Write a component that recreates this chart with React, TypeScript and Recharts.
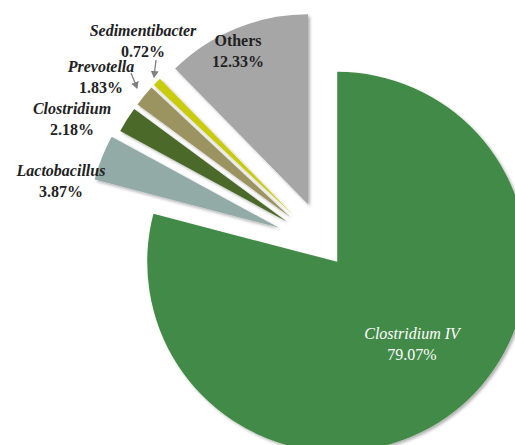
import { PieChart, Pie, Cell, Sector } from "recharts";

const genera = ["Clostridium IV", "Lactobacillus", "Clostridium", "Prevotella", "Sedimentibacter", "Others"];
const shares = [79.07, 3.87, 2.18, 1.83, 0.72, 12.33];
const sliceColors = ["#438a46", "#93aba7", "#4b6a2b", "#9b9461", "#c9cb0a", "#a6a6a6"];
const explodeBy = [20, 50, 45, 45, 45, 45];

// label anchor points (centre of the name line), picked off the original figure
const labelSpots: Record<string, { x: number; y: number; fill: string; bold: boolean; italic: boolean }> = {
  "Clostridium IV": { x: 412, y: 333, fill: "#ffffff", bold: false, italic: true },
  Lactobacillus: { x: 61, y: 170, fill: "#222", bold: true, italic: true },
  Clostridium: { x: 72, y: 108, fill: "#222", bold: true, italic: true },
  Prevotella: { x: 101, y: 66, fill: "#222", bold: true, italic: true },
  Sedimentibacter: { x: 143, y: 30, fill: "#222", bold: true, italic: true },
  Others: { x: 238, y: 40, fill: "#222", bold: true, italic: false },
};

const data = genera.map((name, i) => ({ name, value: shares[i] }));
const RAD = Math.PI / 180;

const renderSlice = (props: any) => {
  const { cx, cy, outerRadius, startAngle, endAngle, midAngle, fill } = props;
  const name = props.name ?? props.payload?.name;
  const off = explodeBy[genera.indexOf(name)] ?? 0;
  const x = cx + off * Math.cos(midAngle * RAD);
  const y = cy - off * Math.sin(midAngle * RAD);
  return (
    <Sector
      cx={x}
      cy={y}
      innerRadius={0}
      outerRadius={outerRadius}
      startAngle={startAngle}
      endAngle={endAngle}
      fill={fill}
      stroke="none"
      filter="url(#sliceShadow)"
    />
  );
};

const renderLabel = (props: any) => {
  const name = props.name ?? props.payload?.name;
  const spot = labelSpots[name];
  if (!spot) return null;
  const value = shares[genera.indexOf(name)];
  return (
    <g>
      <text
        x={spot.x}
        y={spot.y}
        textAnchor="middle"
        dominantBaseline="central"
        fill={spot.fill}
        fontFamily="'Liberation Serif', serif"
        fontSize={16}
        fontWeight={spot.bold ? "bold" : "normal"}
        fontStyle={spot.italic ? "italic" : "normal"}
      >
        {name}
      </text>
      <text
        x={spot.x}
        y={spot.y + 21}
        textAnchor="middle"
        dominantBaseline="central"
        fill={spot.fill}
        fontFamily="'Liberation Serif', serif"
        fontSize={16}
        fontWeight={spot.bold ? "bold" : "normal"}
      >
        {value.toFixed(2)}%
      </text>
    </g>
  );
};

export default function App() {
  return (
    <div style={{ position: "absolute", left: 0, top: 0, background: "#fff" }}>
      <PieChart width={515} height={445}>
        <defs>
          <filter id="sliceShadow" x="-20%" y="-20%" width="140%" height="140%">
            <feDropShadow dx="2" dy="2" stdDeviation="1.5" floodColor="#000" floodOpacity="0.3" />
          </filter>
          <marker id="arrowHead" markerWidth="8" markerHeight="8" refX="6" refY="4" orient="auto" markerUnits="userSpaceOnUse">
            <path d="M0,0 L7,4 L0,8 Z" fill="#7f7f7f" />
          </marker>
        </defs>
        <Pie
          data={data}
          dataKey="value"
          nameKey="name"
          cx={320}
          cy={241}
          outerRadius={190}
          startAngle={90}
          endAngle={-270}
          stroke="none"
          shape={renderSlice}
          label={renderLabel}
          labelLine={false}
          isAnimationActive={false}
        >
          {data.map((d, i) => (
            <Cell key={d.name} fill={sliceColors[i]} />
          ))}
        </Pie>
        <path d="M131,73 Q134,80 137,88" fill="none" stroke="#7f7f7f" strokeWidth={1.3} markerEnd="url(#arrowHead)" />
        <path d="M156,60 L154,77" fill="none" stroke="#7f7f7f" strokeWidth={1.3} markerEnd="url(#arrowHead)" />
      </PieChart>
    </div>
  );
}
